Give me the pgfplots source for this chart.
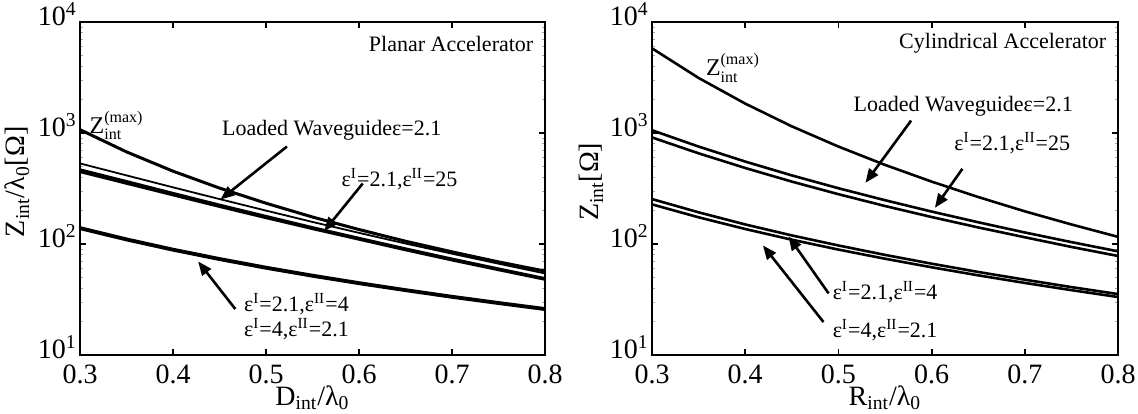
\documentclass[border=0pt]{standalone}
\usepackage{pgfplots}
\pgfplotsset{compat=1.18}
\usepackage{fontspec}
\setmainfont{Liberation Serif}
\usetikzlibrary{arrows.meta}

\newcommand{\tk}{\fontsize{14}{14}\selectfont}
\newcommand{\anf}{\fontsize{11}{12}\selectfont}
\newcommand{\smf}{\fontsize{8}{8}\selectfont}
\newcommand{\ep}[2]{ε\textsuperscript{#1}=#2}

\tikzset{arr/.style={line width=1.3pt, -{Triangle[length=7pt,width=5.5pt]}}}

\begin{document}
\begin{tikzpicture}
\useasboundingbox (0,0) rectangle (569pt,206.5pt);

% ---------------- Planar ----------------
\begin{axis}[scale only axis, width=232.5pt, height=166.5pt,
    at={(40pt,29pt)}, anchor=south west,
    xmin=0.3, xmax=0.8, ymode=log, ymin=10, ymax=10000,
    xtick={0.3,0.4,0.5,0.6,0.7,0.8},
    xticklabels={0.3,0.4,0.5,0.6,0.7,0.8},
    ytick={10,100,1000,10000},
    yticklabels={10\textsuperscript{1},10\textsuperscript{2},10\textsuperscript{3},10\textsuperscript{4}},
    tick align=inside, major tick length=3pt, minor tick length=1.5pt,
    axis line style={line width=1.3pt},
    major tick style={black, line width=0.9pt},
    minor tick style={black!35, line width=0.4pt},
    tick label style={font=\tk},
    xticklabel style={anchor=base, yshift=-14pt, inner sep=1pt},
    yticklabel style={yshift=4pt, inner sep=1.5pt},
    xlabel style={font=\tk, at={(axis description cs:0.5,0)}, anchor=base, yshift=-25pt, inner sep=0pt},
    ylabel style={font=\tk, at={(axis description cs:-0.135,0.52)}, anchor=center, inner sep=0pt},
    xlabel={D\textsubscript{int}/λ\textsubscript{0}},
    ylabel={Z\textsubscript{int}/λ\textsubscript{0}[Ω]}]
% Z_int^(max)
\addplot[black, no marks, line width=1.5pt] coordinates {(0.30,1072)(0.35,676)(0.40,453)(0.45,319)(0.50,233)(0.55,175)(0.60,135)(0.65,106)(0.70,85)(0.75,69)(0.80,57)};
% thin line
\addplot[black, no marks, line width=0.9pt] coordinates {(0.30,532)(0.35,415)(0.40,324)(0.45,254)(0.50,200)(0.55,158)(0.60,126)(0.65,101)(0.70,81.8)(0.75,66.5)(0.80,54.3)};
% band
\addplot[black, no marks, line width=1.3pt] coordinates {(0.30,468)(0.35,367)(0.40,287)(0.45,225)(0.50,178)(0.55,141)(0.60,113)(0.65,90.8)(0.70,73.5)(0.75,59.9)(0.80,49.0)};
\addplot[black, no marks, line width=1.3pt] coordinates {(0.30,447)(0.35,351)(0.40,276)(0.45,217)(0.50,172)(0.55,137)(0.60,110)(0.65,88.3)(0.70,71.5)(0.75,58.4)(0.80,47.9)};
% bottom
\addplot[black, no marks, line width=1.3pt] coordinates {(0.30,141)(0.35,111.5)(0.40,90.1)(0.45,74.2)(0.50,62.0)(0.55,52.5)(0.60,45.0)(0.65,38.9)(0.70,33.9)(0.75,29.8)(0.80,26.3)};
\addplot[black, no marks, line width=1.3pt] coordinates {(0.30,137)(0.35,108.5)(0.40,87.7)(0.45,72.2)(0.50,60.3)(0.55,51.1)(0.60,43.8)(0.65,37.9)(0.70,33.0)(0.75,29.0)(0.80,25.6)};

\node[anchor=east, font=\anf] at (rel axis cs:0.99,0.935) {Planar Accelerator};
\node[anchor=west, font=\anf, inner sep=0pt] at (rel axis cs:0.02,0.69)
  {$\mbox{\fontsize{12}{12}\selectfont Z}^{\mbox{\smf(max)}}_{\mbox{\smf int}}$};
\node[anchor=west, font=\anf, inner sep=0pt] at (rel axis cs:0.305,0.674) {Loaded Waveguideε=2.1};
\draw[arr] (rel axis cs:0.445,0.626) -- (rel axis cs:0.302,0.467);
\node[anchor=west, font=\anf, inner sep=0pt] at (rel axis cs:0.562,0.528) {\ep{I}{2.1},\ep{II}{25}};
\draw[arr] (rel axis cs:0.608,0.515) -- (rel axis cs:0.525,0.372);
\draw[arr] (rel axis cs:0.334,0.138) -- (rel axis cs:0.254,0.281);
\node[anchor=west, font=\anf, inner sep=0pt] at (rel axis cs:0.352,0.152) {\ep{I}{2.1},\ep{II}{4}};
\node[anchor=west, font=\anf, inner sep=0pt] at (rel axis cs:0.352,0.077) {\ep{I}{4},\ep{II}{2.1}};
\end{axis}

% ---------------- Cylindrical ----------------
\begin{axis}[scale only axis, width=233pt, height=166.5pt,
    at={(326pt,29pt)}, anchor=south west,
    xmin=0.3, xmax=0.8, ymode=log, ymin=10, ymax=10000,
    xtick={0.3,0.4,0.5,0.6,0.7,0.8},
    xticklabels={0.3,0.4,0.5,0.6,0.7,0.8},
    ytick={10,100,1000,10000},
    yticklabels={10\textsuperscript{1},10\textsuperscript{2},10\textsuperscript{3},10\textsuperscript{4}},
    tick align=inside, major tick length=3pt, minor tick length=1.5pt,
    axis line style={line width=1.3pt},
    major tick style={black, line width=0.9pt},
    minor tick style={black!35, line width=0.4pt},
    tick label style={font=\tk},
    xticklabel style={anchor=base, yshift=-14pt, inner sep=1pt},
    yticklabel style={yshift=4pt, inner sep=1.5pt},
    xlabel style={font=\tk, at={(axis description cs:0.5,0)}, anchor=base, yshift=-25pt, inner sep=0pt},
    ylabel style={font=\tk, at={(axis description cs:-0.13,0.52)}, anchor=center, inner sep=0pt},
    xlabel={R\textsubscript{int}/λ\textsubscript{0}},
    ylabel={Z\textsubscript{int}[Ω]}]
\addplot[black, no marks, line width=1.3pt] coordinates {(0.30,5790)(0.35,3133)(0.40,1841)(0.45,1148)(0.50,755)(0.55,516)(0.60,365)(0.65,265)(0.70,197)(0.75,150)(0.80,116)};
\addplot[black, no marks, line width=1.3pt] coordinates {(0.30,1059)(0.35,755)(0.40,553)(0.45,415)(0.50,318)(0.55,248)(0.60,196)(0.65,157)(0.70,127)(0.75,104)(0.80,85.9)};
\addplot[black, no marks, line width=1.3pt] coordinates {(0.30,912)(0.35,656)(0.40,484)(0.45,365)(0.50,281)(0.55,220)(0.60,175)(0.65,141)(0.70,115)(0.75,94.1)(0.80,78.0)};
\addplot[black, no marks, line width=1.3pt] coordinates {(0.30,254)(0.35,193)(0.40,150)(0.45,119.5)(0.50,97.0)(0.55,79.8)(0.60,66.5)(0.65,56.0)(0.70,47.7)(0.75,40.9)(0.80,35.4)};
\addplot[black, no marks, line width=1.3pt] coordinates {(0.30,227.5)(0.35,174)(0.40,136.5)(0.45,109.3)(0.50,89.1)(0.55,73.7)(0.60,61.7)(0.65,52.2)(0.70,44.6)(0.75,38.4)(0.80,33.3)};

\node[anchor=east, font=\anf] at (rel axis cs:0.99,0.935) {Cylindrical Accelerator};
\node[anchor=west, font=\anf, inner sep=0pt] at (rel axis cs:0.115,0.862)
  {$\mbox{\fontsize{12}{12}\selectfont Z}^{\mbox{\smf(max)}}_{\mbox{\smf int}}$};
\node[anchor=west, font=\anf, inner sep=0pt] at (rel axis cs:0.432,0.747) {Loaded Waveguideε=2.1};
\draw[arr] (rel axis cs:0.556,0.704) -- (rel axis cs:0.458,0.517);
\node[anchor=west, font=\anf, inner sep=0pt] at (rel axis cs:0.648,0.637) {\ep{I}{2.1},\ep{II}{25}};
\draw[arr] (rel axis cs:0.666,0.559) -- (rel axis cs:0.607,0.442);
\draw[arr] (rel axis cs:0.379,0.185) -- (rel axis cs:0.293,0.356);
\draw[arr] (rel axis cs:0.368,0.099) -- (rel axis cs:0.238,0.329);
\node[anchor=west, font=\anf, inner sep=0pt] at (rel axis cs:0.387,0.188) {\ep{I}{2.1},\ep{II}{4}};
\node[anchor=west, font=\anf, inner sep=0pt] at (rel axis cs:0.387,0.076) {\ep{I}{4},\ep{II}{2.1}};
\end{axis}
\end{tikzpicture}
\end{document}
